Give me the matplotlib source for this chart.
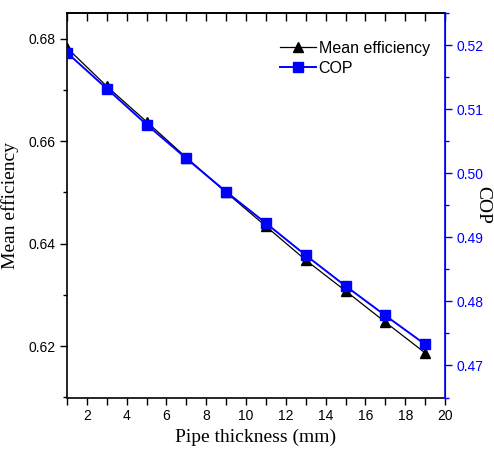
import matplotlib
matplotlib.use("Agg")
import matplotlib.pyplot as plt
from matplotlib.ticker import MultipleLocator

# data
thickness = [1, 3, 5, 7, 9, 11, 13, 15, 17, 19]
mean_eff = [0.6782, 0.6707, 0.6638, 0.6568, 0.6500, 0.6434, 0.6368, 0.6308, 0.6247, 0.6187]
cop = [0.5188, 0.5132, 0.5076, 0.5023, 0.4971, 0.4922, 0.4872, 0.4824, 0.4778, 0.4733]

tick_font = ['Liberation Sans Narrow', 'Liberation Sans', 'DejaVu Sans']
label_font = ['Liberation Serif', 'DejaVu Serif']
blue = '#0000FF'

fig = plt.figure(figsize=(4.94, 4.49), dpi=100)
ax = fig.add_axes([67 / 494, 1 - 397.5 / 449, (445 - 67) / 494, (397.5 - 13) / 449])
ax2 = ax.twinx()

l1, = ax.plot(thickness, mean_eff, color='black', lw=0.9, marker='^', ms=7,
              label='Mean efficiency', zorder=3)
l2, = ax2.plot(thickness, cop, color=blue, lw=1.4, marker='s', ms=6.5,
               label='COP', zorder=3)

ax.set_xlim(1, 20)
ax.set_ylim(0.61, 0.685)
ax2.set_ylim(0.465, 0.525)

ax.xaxis.set_major_locator(MultipleLocator(2))
ax.xaxis.set_minor_locator(MultipleLocator(1))
ax.yaxis.set_major_locator(MultipleLocator(0.02))
ax.yaxis.set_minor_locator(MultipleLocator(0.01))
ax2.yaxis.set_major_locator(MultipleLocator(0.01))
ax2.yaxis.set_minor_locator(MultipleLocator(0.005))

ax.tick_params(axis='x', which='major', direction='out', length=5, width=1, top=False)
ax.tick_params(axis='x', which='minor', direction='out', length=5, width=1, top=False)
ax.tick_params(axis='y', which='major', direction='out', length=5, width=1)
ax.tick_params(axis='y', which='minor', direction='out', length=3, width=1)
ax2.tick_params(axis='y', which='major', direction='out', length=5, width=1, colors=blue)
ax2.tick_params(axis='y', which='minor', direction='out', length=3, width=1, colors=blue)

# inward ticks on the top edge
top = ax.secondary_xaxis('top')
top.xaxis.set_major_locator(MultipleLocator(1))
top.tick_params(direction='in', length=6, width=1, labeltop=False)

ax.yaxis.set_major_formatter(plt.FuncFormatter(lambda v, p: f"{v:.2f}"))
ax2.yaxis.set_major_formatter(plt.FuncFormatter(lambda v, p: f"{v:.2f}"))

for lab in ax.get_xticklabels() + ax.get_yticklabels() + ax2.get_yticklabels():
    lab.set_fontfamily(tick_font)
    lab.set_fontsize(10)

for sp in ['left', 'bottom', 'top']:
    ax.spines[sp].set_linewidth(1.2)
ax2.spines['right'].set_color(blue)
ax2.spines['right'].set_linewidth(1.2)
ax2.spines['left'].set_visible(False)
ax2.spines['top'].set_visible(False)
ax2.spines['bottom'].set_visible(False)
top.spines['top'].set_linewidth(1.2)

ax.set_xlabel('Pipe thickness (mm)', fontfamily=label_font, fontsize=14, labelpad=4)
ax.set_ylabel('Mean efficiency', fontfamily=label_font, fontsize=14)
ax.yaxis.set_label_coords(-0.127, 0.5)
ax2.set_ylabel('COP', fontfamily=label_font, fontsize=14, rotation=270, va='center')
ax2.yaxis.set_label_coords(1.10, 0.5)

leg = ax.legend([l1, l2], ['Mean efficiency', 'COP'], loc='upper right',
                bbox_to_anchor=(0.998, 0.965), frameon=False,
                prop={'family': tick_font, 'size': 11.5},
                handlelength=2.2, handletextpad=0.2, labelspacing=0.3)

fig.savefig('out.png', dpi=100)
